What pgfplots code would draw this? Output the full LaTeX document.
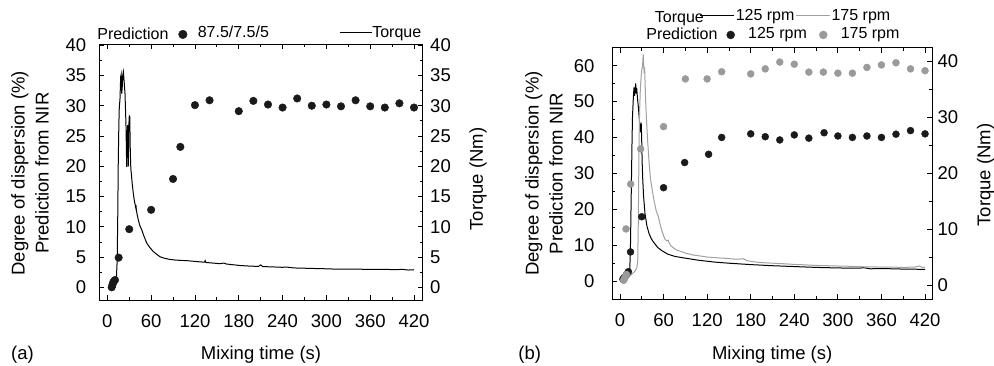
\documentclass[border=0pt]{standalone}
\usepackage{fontspec}
\setmainfont{Liberation Sans}
\usepackage{pgfplots}
\pgfplotsset{compat=1.18}
\definecolor{dk}{HTML}{1A1A1A}
\definecolor{gr}{HTML}{9A9A9A}
\definecolor{grl}{HTML}{A0A0A0}
\pgfplotsset{
  base/.style={
    scale only axis, anchor=south west,
    tick align=inside,
    major tick length=5pt, minor tick length=3pt,
    tick style={line width=0.8pt, black},
    axis line style={line width=0.9pt},
    /pgf/number format/assume math mode=true,
    tick label style={font=\fontsize{18.5}{20}\selectfont},
    label style={font=\fontsize{18.5}{24}\selectfont, align=center},
    legend columns=-1,
    legend style={draw=none, fill=none, inner sep=0pt, outer sep=0pt,
      font=\fontsize{16}{18}\selectfont, column sep=0pt,
      nodes={inner sep=0pt, text height=0.7em, text depth=0.1em}},
  },
  rightax/.style={axis x line=none, axis y line*=right, y axis line style={-},
    ytick pos=right},
  lineleg/.style={legend image code/.code={\draw[##1] (0pt,2.3pt) -- (#1,2.3pt);}},
  dotleg/.style={legend image code/.code={\draw[##1, mark size=#1] plot coordinates {(0pt,0.5pt)};}},
}
\begin{document}
\begin{tikzpicture}
\useasboundingbox (0,0) rectangle (994pt,365pt);
% ================= Panel (a) =================
\begin{axis}[base, rightax, at={(99.3pt,65pt)}, width=323.4pt, height=256pt,
  xmin=-11, xmax=431.9, ymin=-2.1, ymax=40.2,
  ytick={0,5,...,40}, minor y tick num=1,
  yticklabel style={xshift=4pt},
  ylabel={Torque (Nm)},
  ylabel style={at={(axis description cs:1.171,0.473)}, anchor=center},
  legend style={at={(axis description cs:0.7421,1.037)}, anchor=west},
]
\addplot[black, line width=1pt, no marks, lineleg=32pt] coordinates {
(6,0.0)(8,0.5)(10,1.0)(12.5,1.8)(13.5,4.5)(14.3,12)(15,21)(15.8,27)(16.4,29.8)(17.3,31)(18.3,34.8)(19,35.2)(19.7,32)(20.4,33)(21.1,35)(22,35.6)(23,34)(24.2,32)(25,29)(25.6,26.5)(26.2,22)(26.6,19.9)(27.2,24)(27.8,26.8)(28.3,24.5)(28.8,20)(29.3,26.5)(30.1,28.3)(30.7,28.2)(31.5,22.1)(32.2,19.5)(32.9,18.8)(34,17.2)(35.6,15.5)(37,14.3)(38.8,13.2)(39.2,13.6)(39.6,13)(40.5,12.2)(42.5,11.1)(44.5,10.2)(47.1,9.5)(50,8.5)(54,7.3)(58,6.6)(63,5.9)(67,5.5)(72,5.05)(78,4.8)(86,4.6)(93,4.5)(100,4.45)(109,4.4)(118,4.3)(127,4.2)(133,4.15)(134,4.4)(135,4.1)(145,4.0)(154,3.9)(160,4.0)(163,3.85)(170,3.75)(182,3.6)(195,3.5)(207,3.45)(210,3.7)(213,3.4)(218,3.4)(230,3.35)(240,3.3)(245,3.35)(255,3.2)(270,3.15)(285,3.1)(291,3.1)(300,3.05)(315,3.0)(332,3.0)(350,2.98)(365,2.95)(378,2.95)(395,2.93)(405,2.95)(412,2.85)(420,2.9)
};
\addlegendentry{Torque}
\end{axis}
\begin{axis}[base, at={(99.3pt,65pt)}, width=323.4pt, height=256pt,
  xmin=-11, xmax=431.9, ymin=-2.1, ymax=40.2,
  xtick={0,60,...,420}, minor x tick num=1,
  ytick={0,5,...,40}, minor y tick num=1, ytick pos=left,
  xticklabel style={yshift=-10.8pt},
  yticklabel style={xshift=-9.5pt},
  xlabel={Mixing time (s)},
  xlabel style={at={(axis description cs:0.5,-0.213)}, anchor=center},
  ylabel={Degree of dispersion (\%)\\Prediction from NIR},
  ylabel style={at={(axis description cs:-0.214,0.495)}, anchor=center},
  legend style={at={(axis description cs:0.2451,1.037)}, anchor=west,
    /tikz/every odd column/.append style={column sep=10.6pt}},
]
\addplot[only marks, mark=*, mark size=3.8pt, dk, dotleg=4.3pt] coordinates {
(6,0)(7,0.4)(8,0.8)(9,1.0)(10.5,1.2)(15.5,4.9)(30,9.6)(60,12.8)(90,17.9)(100,23.2)(120,30.1)(140,30.9)(180,29.1)(200,30.8)(220,30.2)(240,29.7)(260,31.2)(280,30.0)(300,30.2)(320,29.9)(340,30.9)(360,29.9)(380,29.7)(400,30.4)(420,29.7)
};
\addlegendentry{87.5/7.5/5}
\end{axis}
\node[anchor=base west, font=\fontsize{16}{18}\selectfont] at (93.8pt,325.7pt) {Prediction};
\node[font=\fontsize{18.5}{20}\selectfont] at (22.5pt,10.5pt) {(a)};
% ================= Panel (b) =================
\begin{axis}[base, rightax, at={(612pt,65.7pt)}, width=320.3pt, height=251.6pt,
  xmin=-11, xmax=430, ymin=-2.55, ymax=42.4,
  ytick={0,10,...,40}, minor y tick num=1,
  yticklabel style={xshift=1.7pt},
  ylabel={Torque (Nm)},
  ylabel style={at={(axis description cs:1.166,0.494)}, anchor=center},
  legend style={at={(axis description cs:0.2747,1.1184)}, anchor=west,
    /tikz/every odd column/.append style={column sep=1.5pt},
    /tikz/every even column/.append style={column sep=1.3pt}},
]
\addplot[black, line width=1pt, no marks, lineleg=33.3pt] coordinates {
(2.3,1.2)(6,1.3)(10,1.6)(12.5,2.0)(13.5,3)(14.3,6)(15,12)(15.8,19)(16.5,25)(17.2,30)(18.4,33.5)(19.3,35.3)(20,33.8)(20.8,35)(21.6,36)(22.3,34.2)(23,35.2)(24,33.5)(25.5,31.5)(27,29)(28.3,27.3)(29.2,29)(29.8,26.5)(30.5,22)(31.3,19)(32.5,15.8)(34.4,12.8)(37,10.6)(40,9.2)(43,8.3)(46,7.7)(52,6.7)(57,6.2)(66,5.5)(76,5.1)(90,4.8)(107,4.45)(130,4.1)(150,3.9)(180,3.65)(210,3.45)(240,3.3)(270,3.15)(300,3.05)(330,3.0)(335,3.1)(345,2.9)(360,2.95)(390,2.85)(420,2.8)
};
\addlegendentry{125 rpm}
\addplot[grl, line width=1pt, no marks, lineleg=33.3pt] coordinates {
(2.3,0.6)(6,0.8)(10,1.2)(15,1.8)(20,2.4)(23,3)(24.4,4.2)(25.3,12)(26.2,25)(27,31)(28,35)(29,37)(30,38.5)(31,39)(31.6,40.5)(32,41.2)(32.6,39.5)(33.2,38.2)(34,38.5)(34.6,36)(35.3,33)(36.5,29.5)(38,25.9)(40,22)(42,19)(43.6,17.6)(47,15)(50,13.2)(52.8,12.2)(55,11)(57,10)(60,8.8)(62,8.2)(64,7.9)(66.5,8.0)(67.5,7.6)(70,7.0)(74,6.6)(78,6.25)(84,6.0)(90,5.7)(101,5.36)(110,5.2)(120,5.0)(135,4.85)(147,4.76)(160,4.6)(170,4.7)(175,4.35)(183,4.17)(195,4.0)(210,3.9)(225,3.8)(238,3.7)(255,3.6)(270,3.5)(285,3.45)(300,3.4)(315,3.35)(330,3.27)(345,3.25)(360,3.2)(375,3.2)(390,3.15)(405,3.2)(412,3.4)(417,3.1)(420,3.2)
};
\addlegendentry{175 rpm}
\end{axis}
\begin{axis}[base, at={(612pt,65.7pt)}, width=320.3pt, height=251.6pt,
  xmin=-11, xmax=430, ymin=-5.1, ymax=65,
  xtick={0,60,...,420}, minor x tick num=1,
  ytick={0,10,...,60}, minor y tick num=1, ytick pos=left,
  xticklabel style={yshift=-10.8pt},
  yticklabel style={xshift=-14pt},
  xlabel={Mixing time (s)},
  xlabel style={at={(axis description cs:0.5,-0.219)}, anchor=center},
  ylabel={Degree of dispersion (\%)\\Prediction from NIR},
  ylabel style={at={(axis description cs:-0.212,0.50)}, anchor=center},
  legend style={at={(axis description cs:0.3581,1.0497)}, anchor=west,
    /tikz/every odd column/.append style={column sep=13.5pt},
    /tikz/every even column/.append style={column sep=12.4pt}},
]
\addplot[only marks, mark=*, mark size=3.5pt, dk, dotleg=4pt] coordinates {
(4,0.5)(6,1.0)(9,1.8)(11.5,2.6)(14.5,8.1)(30,17.9)(60,26.0)(89,33.0)(122,35.3)(140,40.0)(180,41.0)(200,40.2)(220,39.3)(240,40.7)(260,39.8)(281,41.3)(300,40.4)(320,40.0)(340,40.4)(360,40.0)(380,40.9)(400,41.9)(420,41.0)
};
\addlegendentry{125 rpm}
\addplot[only marks, mark=*, mark size=3.5pt, gr, dotleg=4pt] coordinates {
(5,0.2)(6,0.6)(7.5,1.2)(9,1.8)(8.3,14.5)(14.7,27.0)(28.5,36.8)(60,43.0)(90,56.3)(120,56.3)(140,58.3)(180,57.7)(200,59.1)(220,61.0)(240,60.4)(260,58.2)(280,58.2)(300,57.9)(320,57.9)(340,59.5)(360,60.2)(380,60.8)(400,59.1)(420,58.6)
};
\addlegendentry{175 rpm}
\end{axis}
\node[anchor=base west, font=\fontsize{16}{18}\selectfont] at (651.4pt,342.3pt) {Torque};
\node[anchor=base west, font=\fontsize{16}{18}\selectfont] at (642.8pt,325pt) {Prediction};
\node[font=\fontsize{18.5}{20}\selectfont] at (529.7pt,10.5pt) {(b)};
\end{tikzpicture}
\end{document}
